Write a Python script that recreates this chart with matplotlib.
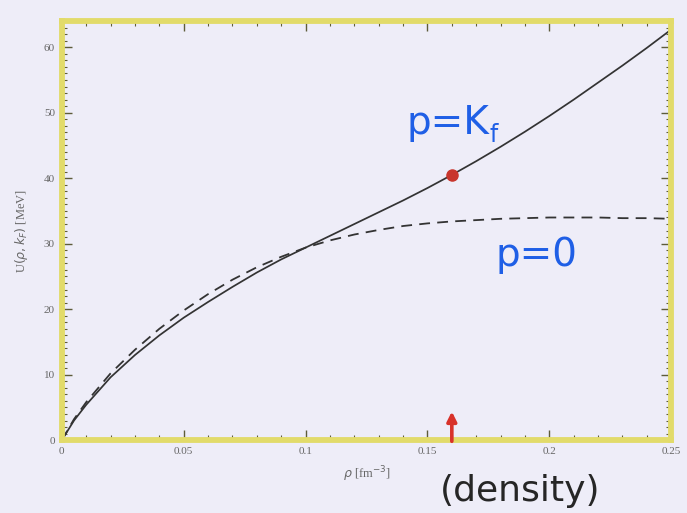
import numpy as np
import matplotlib
matplotlib.use("Agg")
import matplotlib.pyplot as plt
from matplotlib.ticker import MultipleLocator

# density grid [fm^-3]
rho = [0.0, 0.005, 0.01, 0.02, 0.03, 0.04, 0.05, 0.06, 0.07, 0.08, 0.09,
       0.10, 0.11, 0.12, 0.13, 0.14, 0.15, 0.16, 0.17, 0.18, 0.19, 0.20,
       0.21, 0.22, 0.23, 0.24, 0.25]

# potential at the Fermi momentum, p = k_F
u_kf = [0.0, 3.0, 5.4, 9.6, 13.0, 16.0, 18.7, 21.1, 23.4, 25.6, 27.6,
        29.4, 31.2, 33.0, 34.8, 36.6, 38.5, 40.5, 42.6, 44.8, 47.1, 49.5,
        52.0, 54.6, 57.2, 59.9, 62.7]

# potential at zero momentum, p = 0
u_p0 = [0.0, 3.2, 5.8, 10.2, 13.8, 17.0, 19.8, 22.3, 24.5, 26.4, 28.0,
        29.4, 30.5, 31.4, 32.1, 32.7, 33.1, 33.4, 33.6, 33.8, 33.9, 34.0,
        34.0, 34.0, 33.9, 33.9, 33.8]

# saturation density marker
rho_0 = 0.16
u_at_rho0 = 40.5

x_ticks = [0, 0.05, 0.1, 0.15, 0.2, 0.25]
x_tick_labels = ["0", "0.05", "0.1", "0.15", "0.2", "0.25"]
y_ticks = [0, 10, 20, 30, 40, 50, 60]

paper = "#eeedf8"
marker_yellow = "#e2db6a"
tick_col = "#5e5c3a"
ink = "#333333"
pen_blue = "#1f5fe6"

fig = plt.figure(figsize=(6.87, 5.13), dpi=100)
fig.patch.set_facecolor(paper)
ax = fig.add_axes([0.090, 0.142, 0.887, 0.817])
ax.set_facecolor(paper)

ax.plot(rho, u_kf, color=ink, lw=1.25, solid_capstyle="round")
ax.plot(rho, u_p0, color=ink, lw=1.3, dashes=(6, 4))
ax.plot([rho_0], [u_at_rho0], "o", color="#c8352c", ms=8, zorder=5)

ax.set_xlim(0, 0.25)
ax.set_ylim(0, 64)
ax.set_xticks(x_ticks)
ax.set_xticklabels(x_tick_labels)
ax.set_yticks(y_ticks)
ax.xaxis.set_minor_locator(MultipleLocator(0.01))
ax.yaxis.set_minor_locator(MultipleLocator(1))

for s in ax.spines.values():
    s.set_color(marker_yellow)
    s.set_linewidth(4.2)

ax.tick_params(which="both", direction="in", top=True, right=True,
               color=tick_col, labelcolor="#666666", labelsize=8)
ax.tick_params(which="major", length=7, width=1.0, pad=5)
ax.tick_params(which="minor", length=3.5, width=0.8)
for lab in ax.get_xticklabels() + ax.get_yticklabels():
    lab.set_family("Liberation Serif")

ax.set_xlabel(r"$\rho$ [fm$^{-3}$]", fontsize=9, color="#666666",
              family="Liberation Serif", labelpad=6)
ax.set_ylabel(r"U$(\rho,k_F)$ [MeV]", fontsize=9, color="#666666",
              family="Liberation Serif", labelpad=10)

# pen annotations
ax.text(0.1414, 48.5, "p=K", fontsize=28, color=pen_blue, ha="left", va="center")
ax.text(0.1755, 46.6, "f", fontsize=17, color=pen_blue, ha="left", va="center")
ax.text(0.178, 28.2, "p=0", fontsize=28, color=pen_blue, ha="left", va="center")
ax.annotate("", xy=(rho_0, 4.8), xytext=(rho_0, -0.6),
            arrowprops=dict(arrowstyle="-|>", color="#d8322a", lw=2.6,
                            mutation_scale=14),
            annotation_clip=False)
fig.text(0.640, 0.043, "(density)", fontsize=26, color="#262626",
         ha="left", va="center")

fig.savefig("out.png", dpi=100, facecolor=paper)
